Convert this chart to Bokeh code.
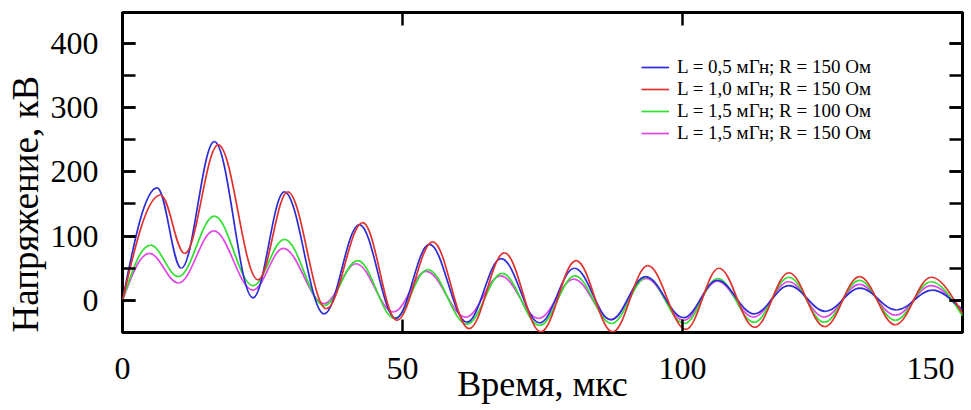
import numpy as np
from bokeh.plotting import figure
from bokeh.models import (Range1d, SingleIntervalTicker, LinearAxis, Legend,
                          LegendItem, Title, Grid)
from bokeh.embed import file_html
from bokeh.resources import INLINE

# ---- data: extrema of each curve (time in µs, voltage in kV)
t_blue = [0, 6.2, 10.5, 16.4, 23.3, 28.9, 36.0, 42.3, 48.8, 54.8, 61.5, 67.6, 74.5,
          80.7, 87.2, 93.4, 100.2, 106.2, 112.8, 119.0, 125.5, 131.7, 138.2, 144.6, 150]
v_blue = [0, 175, 50, 247, 4, 169, -21, 118, -28, 87, -34, 65, -35,
          50, -30, 37, -27, 31, -21, 23, -17, 19, -15, 16, -15]

t_red = [0, 6.8, 11.1, 17.1, 24.2, 29.5, 36.4, 42.9, 49.0, 55.4, 61.9, 68.2, 74.7,
         81.0, 87.5, 93.8, 100.6, 106.5, 112.9, 119.0, 125.4, 131.6, 138.0, 144.4, 150]
v_red = [0, 164, 73, 242, 32, 169, -13, 121, -31, 91, -44, 74, -49,
         62, -49, 54, -45, 50, -42, 43, -41, 37, -38, 36, -20]

t_green = [0, 5.0, 10.0, 16.4, 23.3, 28.9, 36.0, 42.0, 48.6, 54.5, 61.5, 67.8, 74.5,
           80.8, 87.3, 93.6, 100.3, 106.3, 112.8, 119.0, 125.3, 131.6, 138.0, 144.4, 150]
v_green = [0, 86, 37, 131, 23, 95, -8, 62, -28, 48, -37, 42, -39,
           38, -36, 36, -36, 34, -34, 36, -34, 31, -31, 29, -24]

t_mag = [0, 4.8, 10.0, 16.3, 23.3, 28.7, 36.0, 41.7, 48.4, 54.2, 61.3, 67.5, 74.3,
         80.6, 87.2, 93.5, 100.2, 106.2, 112.7, 119.0, 125.3, 131.6, 138.0, 144.4, 150]
v_mag = [0, 73, 27, 108, 16, 81, -5, 57, -18, 45, -26, 38, -28,
         33, -30, 34, -31, 30, -26, 29, -26, 25, -23, 23, -20]

labels = ["L = 0,5 мГн; R = 150 Ом", "L = 1,0 мГн; R = 150 Ом",
          "L = 1,5 мГн; R = 100 Ом", "L = 1,5 мГн; R = 150 Ом"]
colors = ["#2b2bd8", "#e2302c", "#2fe02f", "#e244e6"]

x_label_150 = "150" + "\u00a0" * 2
FONT = "Liberation Serif"


def smooth_segments(t, v):
    """Cubic Bezier pieces between consecutive extrema (horizontal tangents)."""
    t = np.asarray(t, float)
    v = np.asarray(v, float)
    x0, y0, x1, y1 = t[:-1], v[:-1], t[1:], v[1:]
    dx = x1 - x0
    k = 0.3634
    cx0, cy0 = x0 + k * dx, y0.copy()
    cx1, cy1 = x1 - k * dx, y1.copy()
    # first piece starts from zero with a slope
    cx0[0], cy0[0] = x0[0] + 0.35 * dx[0], y0[0] + 0.55 * (y1[0] - y0[0])
    cx1[0] = x1[0] - 0.35 * dx[0]
    # last piece ends while still falling
    cx1[-1], cy1[-1] = x1[-1] - 0.3 * dx[-1], y1[-1] + 0.4 * (y0[-1] - y1[-1])
    return dict(x0=x0, y0=y0, x1=x1, y1=y1, cx0=cx0, cy0=cy0, cx1=cx1, cy1=cy1)


p = figure(width=970, height=409, x_range=Range1d(0, 150), y_range=Range1d(-50, 448),
           output_backend="svg", toolbar_location=None, title=None,
           x_axis_location=None, y_axis_location=None,
           min_border_left=121, min_border_right=8, min_border_top=12,
           min_border_bottom=77)
p.background_fill_color = "white"
p.border_fill_color = "white"
p.outline_line_color = "black"
p.outline_line_width = 3
p.outline_line_alpha = 1.0
p.center = [c for c in p.center if not isinstance(c, Grid)]

xt = SingleIntervalTicker(interval=50, num_minor_ticks=0)
yt = SingleIntervalTicker(interval=100, num_minor_ticks=2)


def style_axis(ax):
    ax.axis_line_color = None
    ax.major_tick_in = 13
    ax.major_tick_out = 0
    ax.minor_tick_in = 13
    ax.minor_tick_out = 0
    ax.major_tick_line_width = 2.5
    ax.minor_tick_line_width = 2.5
    ax.major_tick_line_color = "black"
    ax.minor_tick_line_color = "black"
    ax.major_label_text_font = FONT
    ax.major_label_text_color = "black"


bottom = LinearAxis(ticker=xt)
style_axis(bottom)
bottom.major_label_text_font_size = "32px"
bottom.major_label_standoff = 17
bottom.major_label_overrides = {150: x_label_150}
bottom.axis_label = "Время, мкс"
bottom.axis_label_text_font = FONT
bottom.axis_label_text_font_size = "36px"
bottom.axis_label_text_font_style = "normal"
bottom.axis_label_text_color = "black"
bottom.axis_label_standoff = -25
p.add_layout(bottom, "below")

left = LinearAxis(ticker=yt)
style_axis(left)
left.major_label_text_font_size = "32px"
left.major_label_standoff = 24
p.add_layout(left, "left")

top = LinearAxis(ticker=SingleIntervalTicker(interval=50, num_minor_ticks=0))
style_axis(top)
top.major_label_text_font_size = "1px"
top.major_label_standoff = 0
top.major_label_overrides = {0: "", 50: "", 100: "", 150: ""}
p.add_layout(top, "above")

right = LinearAxis(ticker=SingleIntervalTicker(interval=100, num_minor_ticks=2))
style_axis(right)
right.major_label_text_font_size = "1px"
right.major_label_standoff = 0
right.major_label_overrides = {-100: "", 0: "", 100: "", 200: "", 300: "", 400: "", 500: ""}
p.add_layout(right, "right")

ytitle = Title(text="Напряжение, кВ", align="left", offset=0, standoff=4,
               vertical_align="bottom", text_font=FONT, text_font_size="37px",
               text_font_style="normal", text_color="black")
p.add_layout(ytitle, "left")

series = [(t_blue, v_blue), (t_red, v_red), (t_green, v_green), (t_mag, v_mag)]
renderers = [None] * 4
for idx in [3, 2, 0, 1]:
    t, v = series[idx]
    renderers[idx] = p.bezier(line_color=colors[idx], line_width=1.7,
                              **smooth_segments(t, v))

legend = Legend(items=[LegendItem(label=labels[i], renderers=[renderers[i]]) for i in range(4)],
                location=(519, 188), orientation="vertical",
                padding=0, spacing=0, margin=0, border_line_color=None,
                background_fill_alpha=0, glyph_width=28, glyph_height=20,
                label_height=20, label_standoff=8, label_text_font=FONT,
                label_text_font_size="19px", label_text_color="black")
p.add_layout(legend, "center")

with open("out.html", "w", encoding="utf-8") as f:
    f.write(file_html(p, INLINE))
